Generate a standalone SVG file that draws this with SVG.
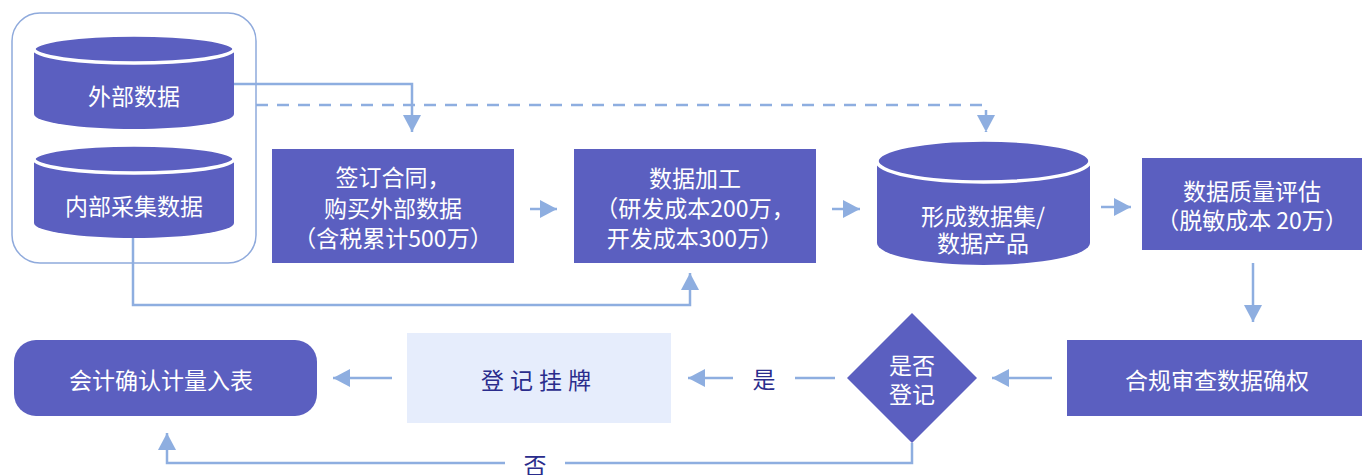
<svg xmlns="http://www.w3.org/2000/svg" width="1362" height="475" viewBox="0 0 1362 475">
<style>
.n{fill:#5b5fc0}
.cyl-top{fill:#5b5fc0;stroke:#ffffff;stroke-width:3.5}
.t{font-family:"Noto Sans CJK SC","Noto Sans",sans-serif;font-size:23px;fill:#ffffff;text-anchor:middle;dominant-baseline:central}
.d{fill:#2a2c8c}
.c{fill:none;stroke:#8eaee0;stroke-width:2.5}
.dash{stroke-dasharray:12 9}
</style>
<defs>
<marker id="a" viewBox="0 0 18 18" refX="17" refY="9" markerWidth="18" markerHeight="18" markerUnits="userSpaceOnUse" orient="auto">
<path d="M0,0 L17,9 L0,18 z" fill="#8eaee0"/>
</marker>
</defs>
<rect x="12" y="13" width="244" height="250" rx="28" fill="none" stroke="#8faadc" stroke-width="1.5"/>
<g id="connectors">
<path class="c" d="M234,84 H412 V132" marker-end="url(#a)"/>
<path class="c dash" d="M256,105 H986 V132" marker-end="url(#a)"/>
<path class="c" d="M133,238 V305 H690 V273" marker-end="url(#a)"/>
<path class="c" d="M530,209 H557" marker-end="url(#a)"/>
<path class="c" d="M832,209 H860" marker-end="url(#a)"/>
<path class="c" d="M1101,207 H1131" marker-end="url(#a)"/>
<path class="c" d="M1253,263 V322" marker-end="url(#a)"/>
<path class="c" d="M1052,378 H992" marker-end="url(#a)"/>
<path class="c" d="M835,378 H795"/>
<path class="c" d="M733,378 H688" marker-end="url(#a)"/>
<text class="t d" x="764" y="378">是</text>
<path class="c" d="M392,378 H333" marker-end="url(#a)"/>
<path class="c" d="M912,443 V463 H565"/>
<path class="c" d="M505,463 H167 V433" marker-end="url(#a)"/>
<text class="t d" x="535" y="464">否</text>
</g>
<g id="ext">
<path class="n" d="M34,50 V114 A100,15 0 0 0 234,114 V50 z"/>
<ellipse class="cyl-top" cx="134" cy="49" rx="100" ry="14"/>
<text class="t" x="134" y="95">外部数据</text>
</g>
<g id="int">
<path class="n" d="M34,160 V223 A100,15 0 0 0 234,223 V160 z"/>
<ellipse class="cyl-top" cx="134" cy="159" rx="100" ry="14"/>
<text class="t" x="134" y="205">内部采集数据</text>
</g>
<g id="contract">
<rect class="n" x="272" y="149" width="242" height="114"/>
<text class="t" x="393" y="176">签订合同，</text>
<text class="t" x="393" y="207">购买外部数据</text>
<text class="t" x="393" y="237">（含税累计500万）</text>
</g>
<g id="process">
<rect class="n" x="574" y="149" width="242" height="114"/>
<text class="t" x="695" y="177">数据加工</text>
<text class="t" x="695" y="207">（研发成本200万，</text>
<text class="t" x="695" y="237">开发成本300万）</text>
</g>
<g id="dataset">
<path class="n" d="M877,162 V243 A106.5,22 0 0 0 1090,243 V162 z"/>
<ellipse class="cyl-top" cx="983.5" cy="161" rx="106.5" ry="21"/>
<text class="t" x="983" y="215">形成数据集/</text>
<text class="t" x="983" y="242">数据产品</text>
</g>
<g id="quality">
<rect class="n" x="1142" y="158" width="220" height="92"/>
<text class="t" x="1252" y="190">数据质量评估</text>
<text class="t" x="1252" y="219">（脱敏成本 20万）</text>
</g>
<g id="compliance">
<rect class="n" x="1067" y="340" width="295" height="76"/>
<text class="t" x="1217" y="379">合规审查数据确权</text>
</g>
<g id="decision">
<path class="n" d="M912,313 L977,378 L912,443 L847,378 z"/>
<text class="t" x="912" y="364">是否</text>
<text class="t" x="912" y="393">登记</text>
</g>
<g id="listing">
<rect x="407" y="333" width="264" height="90" fill="#e6edfc"/>
<text class="t d" x="539" y="379" letter-spacing="6">登记挂牌</text>
</g>
<g id="accounting">
<rect class="n" x="14" y="340" width="303" height="76" rx="22"/>
<text class="t" x="161" y="379">会计确认计量入表</text>
</g>
</svg>
